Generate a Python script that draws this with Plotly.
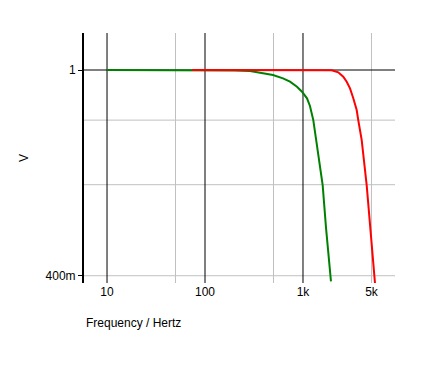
import plotly.graph_objects as go

# Data (frequency in Hz, amplitude in V)
green_freq = [10, 100, 200, 288, 391, 494, 625, 737, 868, 977, 1099, 1178, 1274, 1325, 1422, 1588, 1718, 1918, 1930]
green_volt = [1.0, 1.0, 0.998, 0.9956, 0.9854, 0.978, 0.9637, 0.9493, 0.9284, 0.908, 0.8816, 0.852, 0.800, 0.760, 0.695, 0.599, 0.495, 0.401, 0.390]

red_freq = [74, 500, 1000, 1500, 1963, 2291, 2576, 2792, 3019, 3261, 3532, 3665, 3970, 4467, 4829, 5300, 5430]
red_volt = [1.0, 1.0, 1.0, 0.9995, 0.999, 0.9898, 0.9706, 0.9493, 0.9217, 0.8816, 0.8369, 0.800, 0.7324, 0.5989, 0.506, 0.401, 0.387]

x_tick_vals = [10, 100, 1000, 5000]
x_tick_text = ["10", "100", "1k", "5k"]
y_tick_vals = [0.4, 1]
y_tick_text = ["400m", "1"]

x_major_grid = [10, 100, 1000]
x_minor_grid = [50, 500, 5000]
y_major_grid = [1]
y_minor_grid = [0.8, 0.6, 0.4]

FONT = "Liberation Sans, Arial, sans-serif"

fig = go.Figure()
fig.add_trace(go.Scatter(x=green_freq, y=green_volt, mode="lines",
                         line=dict(color="#008000", width=2), showlegend=False))
fig.add_trace(go.Scatter(x=red_freq, y=red_volt, mode="lines",
                         line=dict(color="#ff0000", width=2), showlegend=False))

shapes = []
for v in x_minor_grid:
    shapes.append(dict(type="line", xref="x", yref="paper", x0=v, x1=v, y0=0, y1=1,
                       line=dict(color="#c0c0c0", width=1), layer="below"))
for v in y_minor_grid:
    shapes.append(dict(type="line", xref="paper", yref="y", x0=0, x1=1, y0=v, y1=v,
                       line=dict(color="#c0c0c0", width=1), layer="below"))
for v in x_major_grid:
    shapes.append(dict(type="line", xref="x", yref="paper", x0=v, x1=v, y0=0, y1=1,
                       line=dict(color="black", width=1), layer="below"))
for v in y_major_grid:
    shapes.append(dict(type="line", xref="paper", yref="y", x0=0, x1=1, y0=v, y1=v,
                       line=dict(color="black", width=1), layer="below"))

fig.update_layout(
    width=445, height=372,
    margin=dict(l=76, r=58, t=25, b=97),
    paper_bgcolor="white", plot_bgcolor="white",
    font=dict(family=FONT, size=12, color="black"),
    shapes=shapes,
    xaxis=dict(type="log", range=[0.765, 3.939], showgrid=False, zeroline=False,
               showline=False, ticks="", tickvals=x_tick_vals, ticktext=x_tick_text,
               tickfont=dict(family=FONT, size=12, color="black")),
    yaxis=dict(type="log", range=[-0.412, 0.0716], showgrid=False, zeroline=False,
               showline=True, linecolor="black", linewidth=2,
               ticks="outside", ticklen=4, tickcolor="black", tickwidth=1,
               tickvals=y_tick_vals, ticktext=y_tick_text,
               tickfont=dict(family=FONT, size=12, color="black")),
    annotations=[
        dict(text="Frequency / Hertz", xref="paper", yref="paper", x=0, y=0,
             xanchor="left", yanchor="top", yshift=-31, showarrow=False,
             font=dict(family=FONT, size=12, color="black")),
        dict(text="V", xref="paper", yref="paper", x=0, y=0.5, textangle=-90,
             xanchor="center", yanchor="middle", xshift=-60, showarrow=False,
             font=dict(family=FONT, size=12, color="black")),
    ],
)

fig.write_html("out.html")
